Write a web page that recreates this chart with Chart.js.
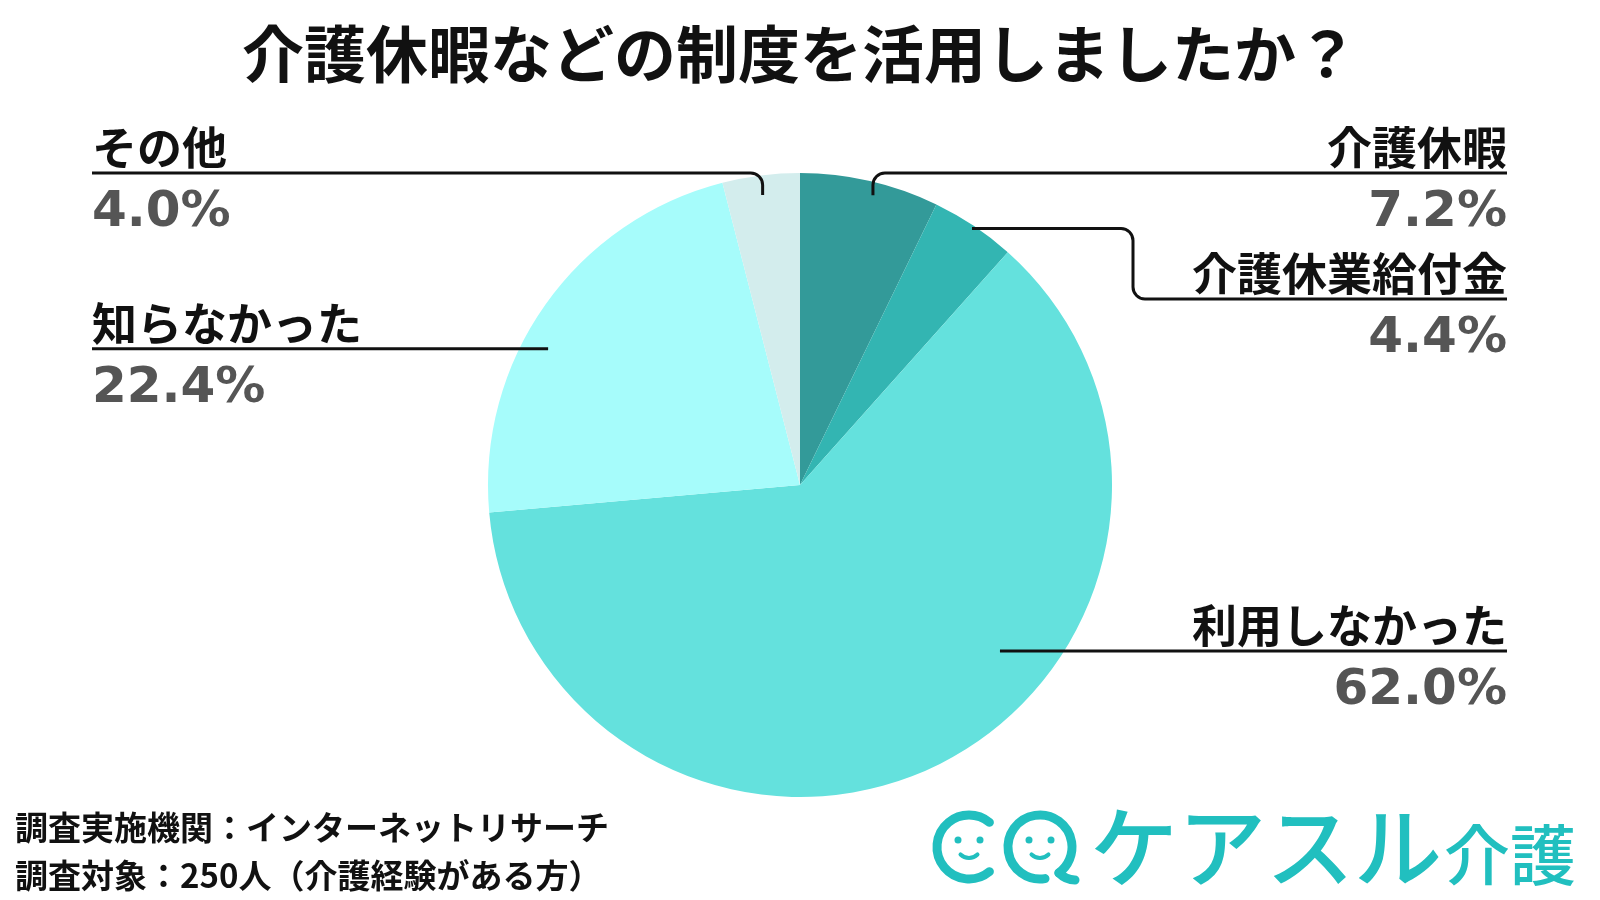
<!DOCTYPE html>
<html>
<head>
<meta charset="utf-8">
<script src="https://cdn.jsdelivr.net/npm/chart.js@4/dist/chart.umd.min.js"></script>
<style>
  html, body { margin: 0; padding: 0; background: #fff; }
  #wrap { width: 1600px; height: 900px; position: relative; }
</style>
</head>
<body>
<div id="wrap"><canvas id="chartPie"></canvas></div>
<script>
// survey data
const title = '介護休暇などの制度を活用しましたか？'
const categories = ['介護休暇', '介護休業給付金', '利用しなかった', '知らなかった', 'その他']
const shares = [7.2, 4.4, 62.0, 22.4, 4.0]
const notes = ['調査実施機関：インターネットリサーチ', '調査対象：250人（介護経験がある方）']

const sliceColors = ['#339a99', '#33b5b2', '#64e1dd', '#a6fcfb', '#d3eded']

// where each callout sits; t = position along the slice, r = fraction of radius
const callouts = [
  { side: 'right', textX: 1507, lineY: 173, t: 0.545, r: 0.958, mode: 'drop' },
  { side: 'right', textX: 1507, lineY: 299, t: 0.5, r: 0.99, mode: 'elbow', elbowX: 1133 },
  { side: 'right', textX: 1507, lineY: null, t: 0.394, r: 0.833, mode: 'flat' },
  { side: 'left', textX: 92, lineY: null, t: 0.415, r: 0.918, mode: 'flat' },
  { side: 'left', textX: 92, lineY: 173, t: 0.49, r: 0.937, mode: 'drop' }
]

const JP = '"Noto Sans CJK JP", "Noto Sans", sans-serif'

const calloutPlugin = {
  id: 'callouts',
  afterDatasetsDraw (chart) {
    const ctx = chart.ctx
    const arcs = chart.getDatasetMeta(0).data
    ctx.save()
    arcs.forEach((arc, i) => {
      const c = callouts[i]
      const p = arc.getProps(['x', 'y', 'startAngle', 'endAngle', 'outerRadius'], true)
      const a = p.startAngle + c.t * (p.endAngle - p.startAngle)
      const ax = p.x + Math.cos(a) * p.outerRadius * c.r
      const ay = p.y + Math.sin(a) * p.outerRadius * c.r
      const ly = c.lineY === null ? ay : c.lineY
      const rad = 12

      ctx.strokeStyle = '#111'
      ctx.lineWidth = 3
      ctx.lineJoin = 'round'
      ctx.beginPath()
      ctx.moveTo(ax, ay)
      if (c.mode === 'drop') {
        ctx.arcTo(ax, ly, c.textX, ly, rad)
        ctx.lineTo(c.textX, ly)
      } else if (c.mode === 'elbow') {
        ctx.arcTo(c.elbowX, ay, c.elbowX, ly, rad)
        ctx.arcTo(c.elbowX, ly, c.textX, ly, rad)
        ctx.lineTo(c.textX, ly)
      } else {
        ctx.lineTo(c.textX, ly)
      }
      ctx.stroke()

      ctx.textAlign = c.side === 'right' ? 'right' : 'left'
      ctx.textBaseline = 'middle'
      ctx.fillStyle = '#111'
      ctx.font = 'bold 45px ' + JP
      ctx.fillText(categories[i], c.textX, ly - 25)
      ctx.fillStyle = '#555'
      ctx.font = 'bold 50px "DejaVu Sans", sans-serif'
      ctx.fillText(shares[i].toFixed(1) + '%', c.textX, ly + 40)
    })
    ctx.restore()
  }
}

const decorPlugin = {
  id: 'decor',
  afterDraw (chart) {
    const ctx = chart.ctx
    ctx.save()
    // title
    ctx.fillStyle = '#111'
    ctx.textAlign = 'center'
    ctx.textBaseline = 'middle'
    ctx.font = 'bold 62px ' + JP
    ctx.fillText(title, 800, 54)

    // footnotes
    ctx.textAlign = 'left'
    ctx.font = 'bold 33px ' + JP
    ctx.fillText(notes[0], 15, 827)
    ctx.fillText(notes[1], 15, 875)

    // logo
    const teal = '#21bfbf'
    ctx.strokeStyle = teal
    ctx.fillStyle = teal
    ctx.lineWidth = 9
    ctx.lineCap = 'round'
    ctx.beginPath()
    ctx.arc(969, 847, 32, Math.PI * 0.28, Math.PI * 1.72, false)
    ctx.stroke()
    ctx.beginPath()
    ctx.arc(1040, 847, 32, Math.PI * 0.45, Math.PI * 0.3 + Math.PI * 2, false)
    ctx.stroke()
    ctx.beginPath()
    ctx.moveTo(1059, 873)
    ctx.quadraticCurveTo(1066, 880, 1075, 880)
    ctx.stroke()
    // faces
    ctx.lineWidth = 4;
    [969, 1040].forEach(cx => {
      ctx.beginPath(); ctx.arc(cx - 11, 840, 3.5, 0, Math.PI * 2); ctx.fill()
      ctx.beginPath(); ctx.arc(cx + 11, 840, 3.5, 0, Math.PI * 2); ctx.fill()
      ctx.beginPath(); ctx.arc(cx, 846, 12, Math.PI * 0.25, Math.PI * 0.75); ctx.stroke()
    })
    ctx.textBaseline = 'alphabetic'
    ctx.font = '500 88px ' + JP
    ctx.fillText('ケアスル', 1090, 880)
    ctx.font = '500 66px ' + JP
    ctx.fillText('介護', 1444, 880)
    ctx.restore()
  }
}

const config = {
  type: 'pie',
  data: {
    labels: categories,
    datasets: [{
      data: shares,
      backgroundColor: sliceColors,
      borderWidth: 0
    }]
  },
  options: {
    responsive: false,
    animation: false,
    layout: { padding: { top: 173, bottom: 103, left: 0, right: 0 } },
    plugins: {
      legend: { display: false },
      tooltip: { enabled: false }
    }
  },
  plugins: [calloutPlugin, decorPlugin]
}

const canvas = document.getElementById('chartPie')
canvas.width = 1600
canvas.height = 900
window.careChart = new Chart(canvas.getContext('2d'), config)
</script>
</body>
</html>
